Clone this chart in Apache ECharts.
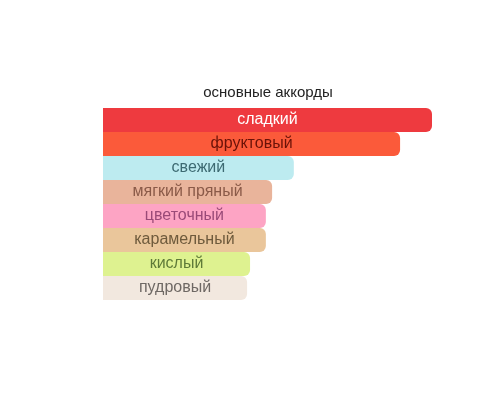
<!DOCTYPE html>
<html><head><meta charset="utf-8">
<script src="https://cdn.jsdelivr.net/npm/echarts@6/dist/echarts.min.js"></script>
<style>html,body{margin:0;padding:0;background:#fff}#c{width:500px;height:400px}</style>
</head><body><div id="c"></div>
<script>
const categories = ['сладкий','фруктовый','свежий','мягкий пряный','цветочный','карамельный','кислый','пудровый'];
const values = [100, 90.3, 58, 51.4, 49.5, 49.5, 44.7, 43.8];
const barColors = ['#ee3a3f','#fb5a3a','#bdebf0','#e9b49b','#fda4c4','#eac69b','#def290','#f2e8df'];
const labelColors = ['#ffffff','#6a1208','#3d6a72','#8a5a48','#9a4a78','#6e5a3c','#5e7a38','#6e6864'];

const chart = echarts.init(document.getElementById('c'));
chart.setOption({
  animation: false,
  title: { text: 'основные аккорды', left: 263, top: 80, textAlign: 'center',
    textStyle: { fontFamily: 'Liberation Sans', fontSize: 15, fontWeight: 'normal', color: '#222' } },
  grid: { left: 103, top: 108, width: 329, height: 192 },
  xAxis: { type: 'value', min: 0, max: 100, show: false },
  yAxis: { type: 'category', data: categories, inverse: true, show: false },
  series: [{
    type: 'bar',
    barWidth: 24,
    data: values.map((v, i) => ({
      value: v,
      itemStyle: { color: barColors[i], borderRadius: [0, 6, 6, 0] },
      label: { color: labelColors[i] }
    })),
    label: { show: true, position: 'inside', formatter: p => categories[p.dataIndex],
      fontFamily: 'Liberation Sans', fontSize: 16 }
  }]
});
</script></body></html>
